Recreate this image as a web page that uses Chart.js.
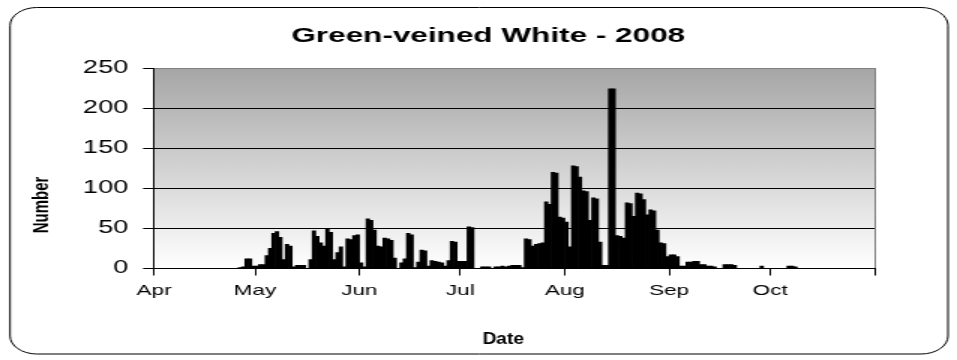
<!DOCTYPE html>
<html lang="en">
<head>
<meta charset="UTF-8">
<title>Green-veined White - 2008</title>
<script src="https://cdn.jsdelivr.net/npm/chart.js"></script>
<style>
  html, body { margin: 0; padding: 0; background: #fff; overflow: hidden; }
  /* the chart is laid out narrow and stretched sideways, like the old Excel picture */
  #frame {
    position: absolute; left: 0; top: 0;
    width: 638px; height: 360px;
    transform: scaleX(1.5); transform-origin: 0 0;
  }
</style>
</head>
<body>
<div id="frame"><canvas id="chart"></canvas></div>
<script>
// daily counts, one array per month (1st .. last day)
const apr = [0,0,0,0,0, 0,0,0,0,0, 0,0,0,0,0, 0,0,0,0,0, 0,0,0,0,0, 1,2,12,12,3];
const may = [3,5,5,16,25, 44,46,39,11,30, 28,2,4,4,4, 0,11,47,40,32, 28,49,45,11,20, 27,2,37,36,41, 42];
const jun = [7,2,62,60,48, 28,27,38,37,35, 13,0,7,12,44, 42,1,8,23,22, 3,10,9,8,7, 3,10,34,33,9];
const jul = [9,9,52,51,0, 0,2,2,2,0, 2,2,3,2,3, 4,4,4,1,37, 36,28,30,31,32, 83,80,120,119,64, 63];
const aug = [58,27,128,127,114, 97,96,60,88,87, 33,4,4,224,224, 41,40,38,82,81, 65,94,93,86,67, 73,72,48,32,31, 15];
const sep = [17,17,15,3,3, 8,8,9,9,5, 5,3,3,2,0, 0,5,5,5,4, 0,0,0,0,0, 0,0,3,0,0];
const oct = [0,0,0,0,0, 3,3,2,0,0, 0,0,0,0,0, 0,0,0,0,0, 0,0,0,0,0, 0,0,0,0,0, 0];

const monthNames = ['Apr', 'May', 'Jun', 'Jul', 'Aug', 'Sep', 'Oct'];
const monthData = [apr, may, jun, jul, aug, sep, oct];
const yTicks = [0, 50, 100, 150, 200, 250];

const chartTitle = 'Green-veined White - 2008';
const xTitle = 'Date';
const yTitle = 'Number';

// day offsets of each month start, plus the end of October
const monthStarts = [];
let day = 0;
monthData.forEach(m => { monthStarts.push(day); day += m.length; });
monthStarts.push(day);
const lastDay = day;

const counts = [].concat(...monthData);
const points = counts.map((v, i) => ({ x: i + 0.5, y: v }));

const FONT = '"Liberation Sans", Arial, sans-serif';
Chart.defaults.font.family = FONT;
Chart.defaults.color = '#000';

// rounded outer frame, grey-to-white plot background, and the three titles,
// which sit a little off the centre of their axes
const decorations = {
  id: 'decorations',
  beforeDraw(chart) {
    const { ctx, chartArea: a } = chart;
    ctx.save();
    ctx.fillStyle = '#fff';
    ctx.fillRect(0, 0, chart.width, chart.height);
    ctx.beginPath();
    ctx.roundRect(6.7, 7.5, 625.3, 346.5, 18);
    ctx.strokeStyle = '#000';
    ctx.lineWidth = 1;
    ctx.stroke();
    const g = ctx.createLinearGradient(0, a.top, 0, a.bottom);
    g.addColorStop(0, '#a6a6a6');
    g.addColorStop(1, '#ffffff');
    ctx.fillStyle = g;
    ctx.fillRect(a.left, a.top, a.right - a.left, a.bottom - a.top);
    ctx.restore();
  },
  afterDraw(chart) {
    const { ctx } = chart;
    ctx.save();
    ctx.fillStyle = '#000';
    ctx.textAlign = 'center';
    ctx.textBaseline = 'middle';
    ctx.font = 'bold 21px ' + FONT;
    ctx.fillText(chartTitle, 325.5, 36);

    // axis title under the dates is narrower than the stretched labels
    ctx.save();
    ctx.translate(335.5, 339.5);
    ctx.scale(0.8, 1);
    ctx.font = 'bold 16px ' + FONT;
    ctx.fillText(xTitle, 0, 0);
    ctx.restore();

    ctx.translate(28, 205);
    ctx.rotate(-Math.PI / 2);
    ctx.font = 'bold 15px ' + FONT;
    ctx.fillText(yTitle, 0, 0);
    ctx.restore();
  }
};

new Chart(document.getElementById('chart'), {
  type: 'bar',
  data: {
    datasets: [{
      data: points,
      backgroundColor: '#000',
      borderWidth: 0,
      barPercentage: 1,
      categoryPercentage: 1
    }]
  },
  options: {
    responsive: true,
    maintainAspectRatio: false,
    animation: false,
    layout: { padding: { left: 7, right: 55, top: 68, bottom: 0 } },
    plugins: {
      legend: { display: false },
      tooltip: { enabled: false },
      title: { display: false }
    },
    scales: {
      x: {
        type: 'linear',
        min: 0,
        max: lastDay,
        offset: false,
        afterBuildTicks: s => { s.ticks = monthStarts.map(v => ({ value: v })); },
        afterFit: s => { s.height = 91.5; },
        ticks: {
          autoSkip: false,
          maxRotation: 0,
          padding: 6,
          font: { size: 15 },
          callback: v => monthNames[monthStarts.indexOf(v)] || ''
        },
        grid: {
          offset: false,
          color: c => (c.tick && c.tick.value === lastDay) ? '#808080' : 'rgba(0,0,0,0)',
          tickColor: '#000',
          tickLength: 7
        },
        border: { color: '#000', width: 1 }
      },
      y: {
        min: 0,
        max: 250,
        afterBuildTicks: s => { s.ticks = yTicks.map(v => ({ value: v })); },
        afterFit: s => { s.width = 95.7; },
        ticks: { padding: 10, font: { size: 18 } },
        grid: {
          color: c => (c.tick && c.tick.value === 250) ? '#808080' : '#000',
          tickColor: '#000',
          tickLength: 7.3
        },
        border: { color: '#000', width: 1 }
      }
    }
  },
  plugins: [decorations]
});
</script>
</body>
</html>
